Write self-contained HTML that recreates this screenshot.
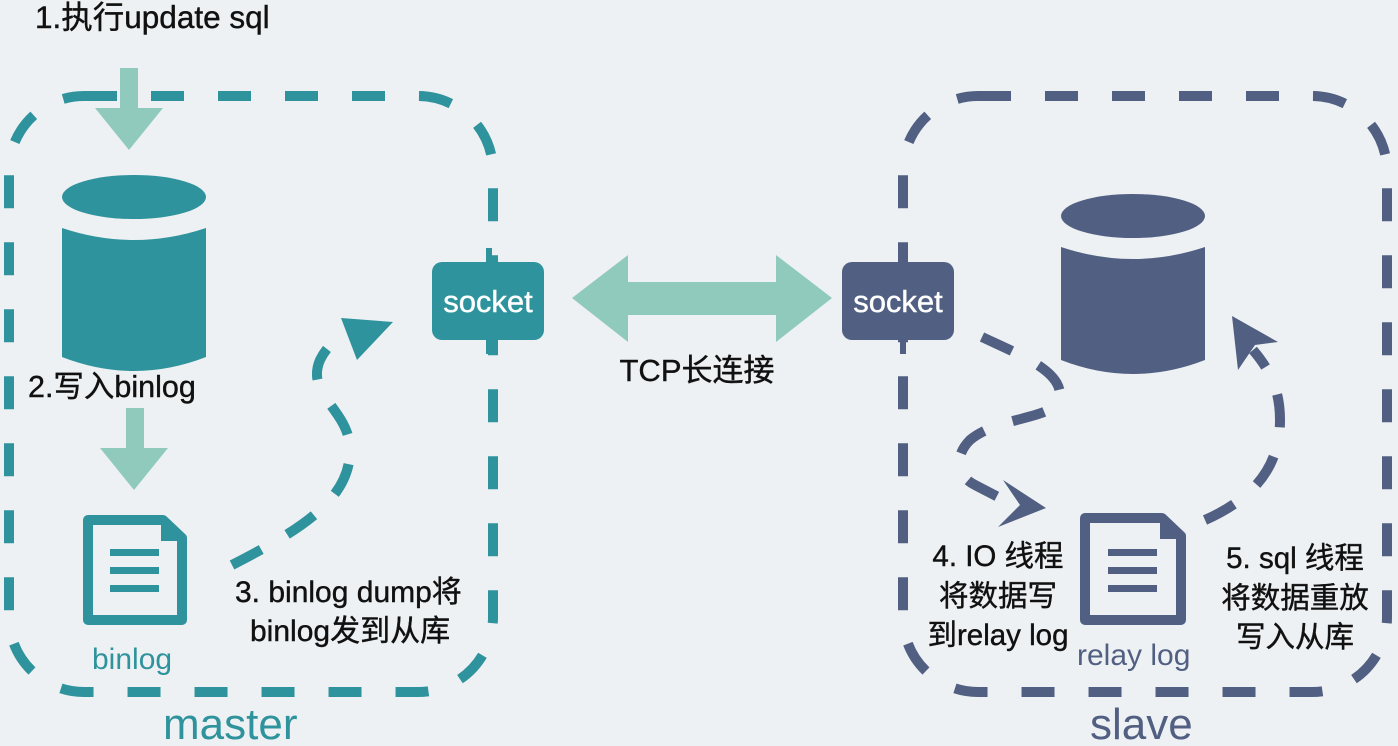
<!DOCTYPE html>
<html><head><meta charset="utf-8"><style>
html,body{margin:0;padding:0;background:#eef1f3;}
svg{display:block}
text{font-family:"Liberation Sans","Noto Sans CJK SC",sans-serif;stroke-width:0.4;}
</style></head><body>
<svg width="1398" height="746" viewBox="0 0 1398 746" xmlns="http://www.w3.org/2000/svg">
<rect width="1398" height="746" fill="#eef1f3"/>
<rect x="9" y="96" width="484" height="596" rx="75" fill="none" stroke="#2e939c" stroke-width="10" stroke-dasharray="33 34"/>
<rect x="903" y="96" width="484" height="596" rx="75" fill="none" stroke="#515f82" stroke-width="10" stroke-dasharray="33 34"/>

<rect x="120" y="68" width="18" height="45" fill="#8fcabd"/>
<polygon points="95,108 163,108 129,150" fill="#8fcabd"/>
<text x="35" y="28" font-size="31.5" fill="#111" stroke="#111">1.执行update sql</text>

<g fill="#2e939c">
<ellipse cx="134" cy="197" rx="72" ry="22"/>
<path d="M62,228 Q134,252 206,228 L206,357 Q134,385 62,357 Z"/>
</g>
<text x="28" y="397" font-size="30.5" fill="#111" stroke="#111">2.写入binlog</text>
<rect x="126" y="408" width="18" height="45" fill="#8fcabd"/>
<polygon points="100,448 168,448 134,490" fill="#8fcabd"/>

<path d="M88,520 L163,520 L182,538 L182,620 L88,620 Z" fill="none" stroke="#2e939c" stroke-width="10" stroke-linejoin="round"/>
<polygon points="161,516 186,541 161,541" fill="#2e939c"/>
<g fill="#2e939c"><rect x="110" y="549" width="49" height="7"/><rect x="110" y="567" width="49" height="7"/><rect x="110" y="585" width="49" height="7"/></g>
<text x="92" y="669" font-size="30" fill="#2e939c">binlog</text>

<path d="M232,565 C300,530 350,500 350,450 C350,410 305,395 320,360 C330,340 345,333 360,325" fill="none" stroke="#2e939c" stroke-width="10" stroke-dasharray="33 30"/>
<polygon points="393,322 341,318 357,360" fill="#2e939c"/>
<text x="235" y="602" font-size="30" fill="#111" stroke="#111">3. binlog dump将</text>
<text x="250" y="641" font-size="30" fill="#111" stroke="#111">binlog发到从库</text>
<text x="163" y="739" font-size="44" fill="#2e939c">master</text>

<rect x="486" y="248" width="6" height="106" fill="#2e939c"/>
<rect x="432" y="262" width="112" height="78" rx="10" fill="#2e939c"/>
<text x="488" y="312" font-size="31" fill="#fff" stroke="#fff" text-anchor="middle">socket</text>
<rect x="900" y="248" width="6" height="106" fill="#515f82"/>
<rect x="842" y="262" width="112" height="78" rx="10" fill="#515f82"/>
<text x="898" y="312" font-size="31" fill="#fff" stroke="#fff" text-anchor="middle">socket</text>

<polygon points="572,298 628,255 628,282 776,282 776,255 832,298 776,342 776,315 628,315 628,342" fill="#8fcabd"/>
<text x="697" y="381" font-size="31" fill="#111" stroke="#111" text-anchor="middle">TCP长连接</text>

<g fill="#515f82">
<ellipse cx="1133" cy="216" rx="72" ry="22"/>
<path d="M1061,247 Q1133,271 1205,247 L1205,360 Q1133,388 1061,360 Z"/>
</g>

<path d="M982,337 C1020,355 1060,370 1060,395 C1060,420 1000,415 970,440 C955,455 955,475 975,485 L1000,498" fill="none" stroke="#515f82" stroke-width="10" stroke-dasharray="33 30"/>
<polygon points="1046,508 1003,480 1020,505 998,527" fill="#515f82"/>
<path d="M1205,520 C1250,500 1280,470 1280,420 C1280,390 1270,370 1253,350" fill="none" stroke="#515f82" stroke-width="10" stroke-dasharray="33 30"/>
<polygon points="1232,316 1278,342 1255,345 1238,370" fill="#515f82"/>

<path d="M1085,518 L1162,518 L1181,536 L1181,620 L1085,620 Z" fill="none" stroke="#515f82" stroke-width="10" stroke-linejoin="round"/>
<polygon points="1160,514 1185,539 1160,539" fill="#515f82"/>
<g fill="#515f82"><rect x="1108" y="549" width="49" height="7"/><rect x="1108" y="567" width="49" height="7"/><rect x="1108" y="585" width="49" height="7"/></g>
<text x="1077" y="665" font-size="30" fill="#515f82">relay log</text>

<g font-size="29.5" fill="#111" stroke="#111" text-anchor="middle">
<text x="998" y="566">4. IO 线程</text>
<text x="998" y="606">将数据写</text>
<text x="998" y="645">到relay log</text>
<text x="1295" y="568">5. sql 线程</text>
<text x="1295" y="608">将数据重放</text>
<text x="1295" y="647">写入从库</text>
</g>
<text x="1090" y="739" font-size="44" fill="#515f82">slave</text>
</svg>
</body></html>
